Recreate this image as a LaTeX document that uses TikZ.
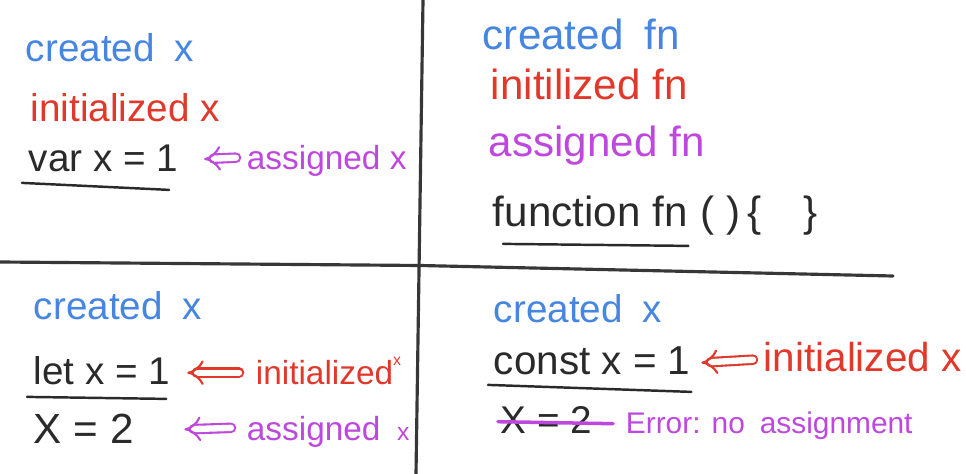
\documentclass[tikz,border=0pt]{standalone}
\usepackage{fontspec}
\setmainfont{Liberation Sans}
\usetikzlibrary{arrows.meta}
\definecolor{penBlue}{RGB}{70,134,224}
\definecolor{penRed}{RGB}{224,56,42}
\definecolor{penMag}{RGB}{190,72,222}
\definecolor{penInk}{RGB}{42,42,42}
\definecolor{penLine}{RGB}{55,55,55}

\begin{document}
\begin{tikzpicture}[line cap=round,
  word/.style={anchor=base west, text height=14pt, text depth=0pt, inner sep=6pt,
    font=\fontsize{#1}{#1}\selectfont},
  word/.default=22,
  implies/.style={double, double distance=3.6pt, line width=1.2pt, -{Implies[scale=1.4]}},
  uline/.style={penInk, line width=1.4pt},
  strike/.style={penMag, line width=2pt},
  rule/.style={penLine, line width=1.8pt}]
\useasboundingbox (0,0) rectangle (19.32,-9.48);
% 分隔线
\draw[rule] (8.46,0) -- (8.32,-9.48);
\draw[rule] (0,-5.24) -- (8.40,-5.31) -- (17.86,-5.52);
% var
\node[word, penBlue] (crtA) at (0.30,-1.24) {created\enspace x};
\node[word, penRed] (iniA) at (0.40,-2.44) {initialized x};
\node[word, penInk] (varA) at (0.36,-3.44) {var x = 1};
\node[word=19, penMag] (asgA) at (4.72,-3.40) {assigned x};
\draw[implies, penMag, shorten >=0.3cm] (asgA.west) -- (varA.east);
\draw[uline] ([xshift=0.08cm]varA.south west) -- ([xshift=-0.4cm,yshift=-0.14cm]varA.south east);
% function
\node[word=24, penBlue] (crtB) at (9.44,-1.00) {created\enspace fn};
\node[word=24, penRed] (iniB) at (9.60,-2.00) {initilized fn};
\node[word=24, penMag] (asgB) at (9.56,-3.14) {assigned fn};
\node[word=24, penInk] (fnB) at (9.64,-4.54) {function fn};
\node[word=24, penInk] (parB) at (13.80,-4.54) {( )\,\{\quad\}};
\draw[uline] ([xshift=0.42cm,yshift=-0.12cm]fnB.south west) -- ([xshift=-0.2cm,yshift=-0.16cm]fnB.south east);
% let
\node[word, penBlue] (crtC) at (0.46,-6.40) {created\enspace x};
\node[word, penInk] (letC) at (0.46,-7.70) {let x = 1};
\node[word=19, penRed] (iniC) at (4.90,-7.70) {initialized\raisebox{1.1ex}{\fontsize{9}{9}\selectfont x}};
\draw[implies, penRed, shorten >=0.12cm, shorten <=0.12cm] (iniC.west) -- (letC.east);
\draw[uline] ([xshift=0.08cm,yshift=-0.02cm]letC.south west) -- ([xshift=-0.3cm,yshift=-0.06cm]letC.south east);
\node[word=24, penInk] (xtwoC) at (0.46,-8.86) {X = 2};
\node[word=19, penMag] (asgC) at (4.72,-8.80) {assigned\enspace{\fontsize{14}{14}\selectfont x}};
\draw[implies, penMag, shorten >=0.8cm, shorten <=0.1cm] (asgC.west) -- (xtwoC.east);
% const
\node[word, penBlue] (crtD) at (9.66,-6.44) {created\enspace x};
\node[word=23, penInk] (constD) at (9.66,-7.50) {const x = 1};
\node[word=23, penRed] (iniD) at (15.06,-7.44) {initialized x};
\draw[implies, penRed] (iniD.west) -- (constD.east);
\draw[uline] ([xshift=0.1cm,yshift=0.02cm]constD.south west) -- ([xshift=-0.2cm,yshift=-0.12cm]constD.south east);
\node[word, penInk] (xtwoD) at (9.80,-8.66) {X = 2};
\node[word=17, penMag] (errD) at (12.30,-8.66) {Error: no\enspace assignment};
\draw[strike] ([xshift=0.16cm,yshift=-0.02cm]xtwoD.west) -- ([xshift=0.2cm,yshift=-0.06cm]xtwoD.east);
\end{tikzpicture}
\end{document}
